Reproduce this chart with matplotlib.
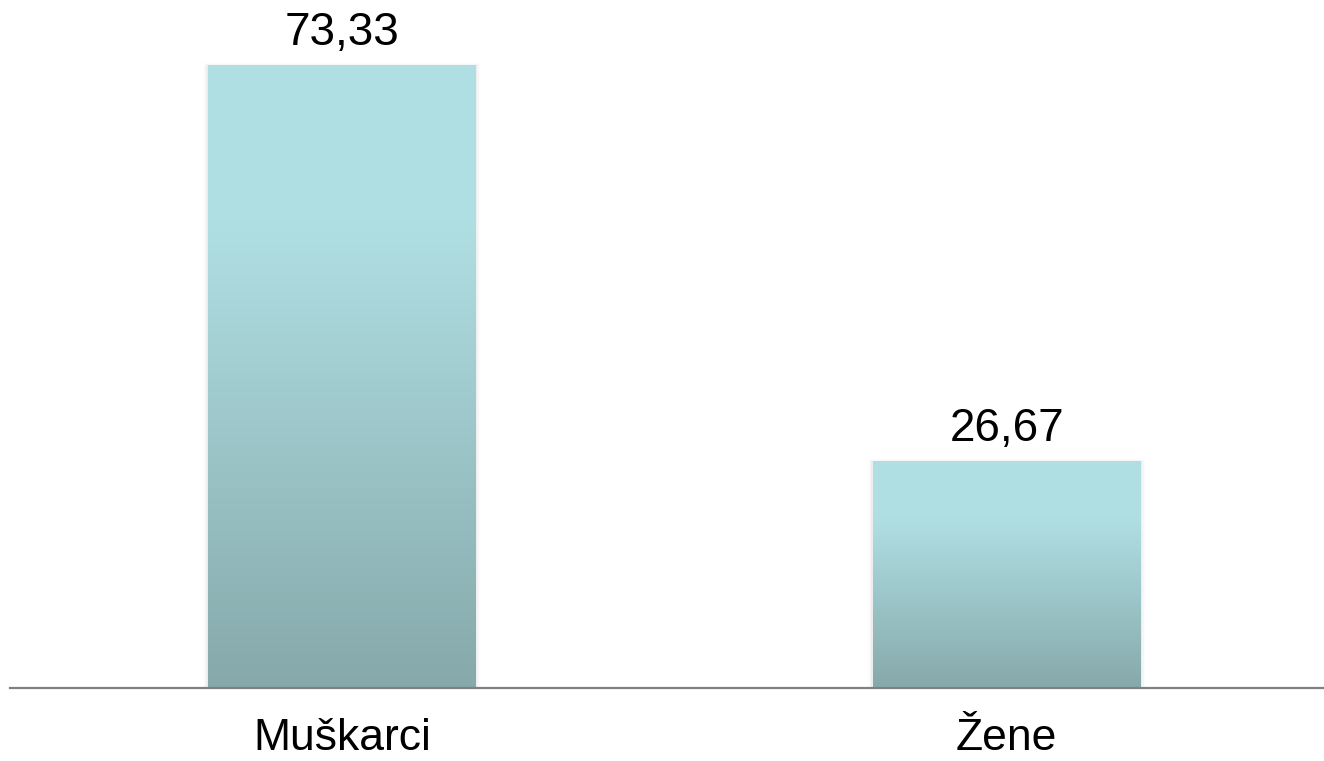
import matplotlib
matplotlib.use('Agg')
import matplotlib.pyplot as plt
import matplotlib.transforms as mtransforms
import numpy as np

# data
categories = ['Muškarci', 'Žene']
values = [73.33, 26.67]
value_labels = ['73,33', '26,67']

top_color = np.array([0.690, 0.875, 0.890])
bottom_color = np.array([0.525, 0.663, 0.671])

plt.rcParams['font.family'] = ['Liberation Sans', 'DejaVu Sans']

fig = plt.figure(figsize=(13.24, 7.61), dpi=100)
ax = fig.add_axes([10 / 1324, 73 / 761, 1314 / 1324, 688 / 761])

x = np.arange(len(categories))
width = 0.403

# vertical gradient: flat near the top, then fades to darker teal
n = 256
t = np.linspace(0, 1, n)  # 0 = bottom, 1 = top
frac = np.clip(t / 0.75, 0, 1)
grad = bottom_color[None, :] + (top_color - bottom_color)[None, :] * frac[:, None]
grad = grad[:, None, :]

px = 1 / 665.0  # one pixel in data x units
for xi, v, lab in zip(x, values, value_labels):
    # soft shadow
    for k, a in enumerate([0.035, 0.022, 0.012]):
        d = 1.5 * (k + 1) * px
        ax.add_patch(plt.Rectangle((xi - width / 2 - d, 0), width + 2 * d, v + 0.12 * (k + 1),
                                   color='black', alpha=a, lw=0, zorder=1))
    ax.imshow(grad, extent=(xi - width / 2, xi + width / 2, 0, v), origin='lower',
              aspect='auto', zorder=2, interpolation='bilinear')
    ax.text(xi, v + 2.5, lab, ha='center', va='baseline', fontsize=33, color='black')

ax.set_xlim(-0.499, 1.477)
ax.set_ylim(0, 81.1)

for s in ['top', 'right', 'left']:
    ax.spines[s].set_visible(False)
ax.spines['bottom'].set_color('#808080')
ax.spines['bottom'].set_linewidth(1.6)
ax.spines['bottom'].set_zorder(3)
ax.set_yticks([])
ax.set_xticks([])

# category labels below the axis line
offset = mtransforms.ScaledTranslation(0, -62 / 100, fig.dpi_scale_trans)
for xi, cat in zip(x, categories):
    ax.text(xi, 0, cat, ha='center', va='baseline', fontsize=32, color='black',
            transform=ax.get_xaxis_transform() + offset, clip_on=False)

fig.savefig('out.png', dpi=100)
